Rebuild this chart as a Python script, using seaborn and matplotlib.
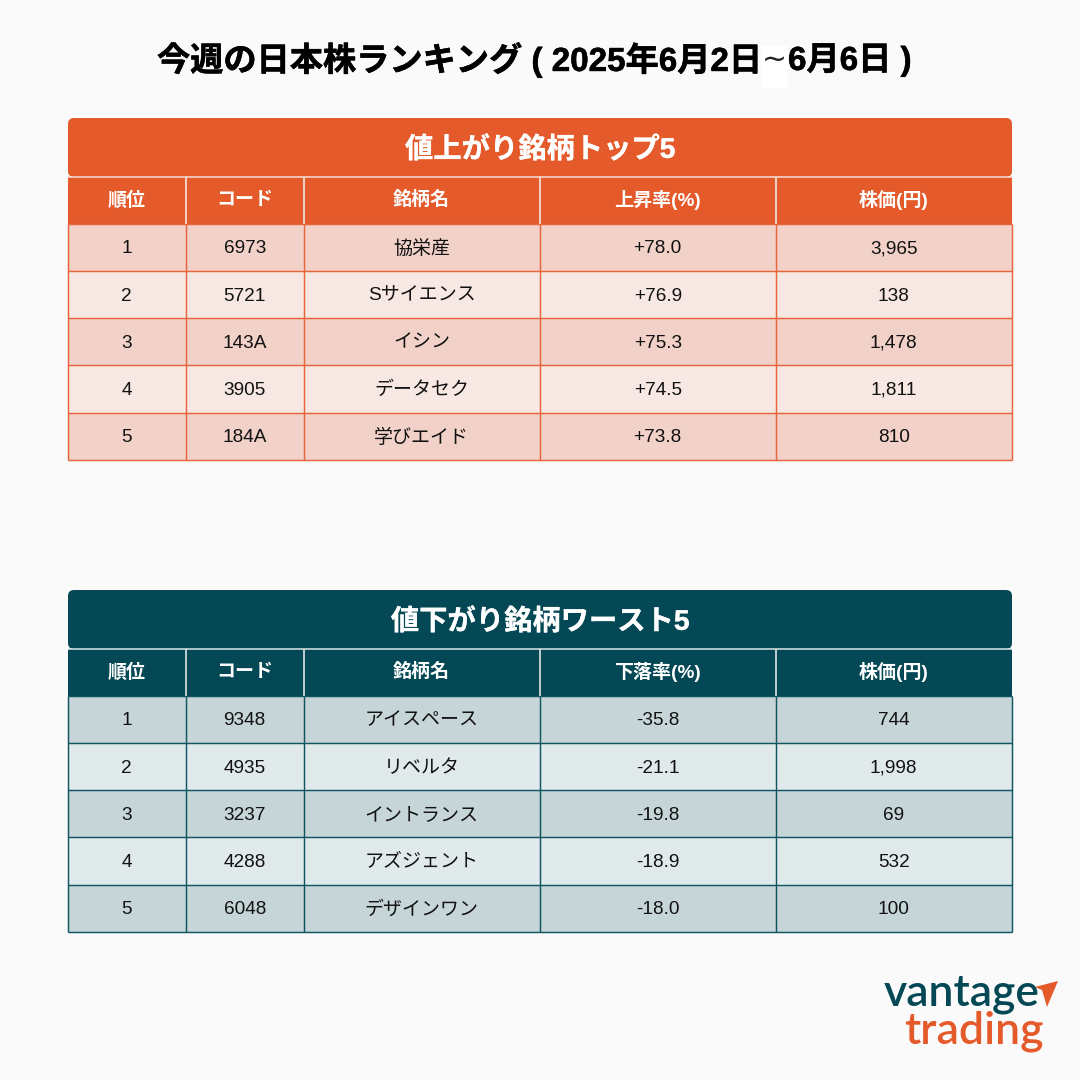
"""
Weekly Japan stock ranking tables, drawn as seaborn heatmaps with text on top.
"""
import numpy as np
import matplotlib.pyplot as plt
import matplotlib.patheffects as pe
import seaborn as sns
from matplotlib.colors import ListedColormap
from matplotlib.patches import FancyBboxPatch, Polygon, Rectangle

sns.set_style("white")
plt.rcParams["font.family"] = ["Liberation Sans", "Noto Sans CJK JP", "DejaVu Sans"]

BG = "#FAFAFA"
ORANGE = "#E45A2A"
TEAL = "#034854"

RANKS = ["1", "2", "3", "4", "5"]
COL_SPANS = [1, 1, 2, 2, 2]

UP_TITLE = "値上がり銘柄トップ5"
UP_HEADER = ["順位", "コード", "銘柄名", "上昇率(%)", "株価(円)"]
UP_CODES = ["6973", "5721", "143A", "3905", "184A"]
UP_NAMES = ["協栄産", "Sサイエンス", "イシン", "データセク", "学びエイド"]
UP_RATES = ["+78.0", "+76.9", "+75.3", "+74.5", "+73.8"]
UP_PRICES = ["3,965", "138", "1,478", "1,811", "810"]

DOWN_TITLE = "値下がり銘柄ワースト5"
DOWN_HEADER = ["順位", "コード", "銘柄名", "下落率(%)", "株価(円)"]
DOWN_CODES = ["9348", "4935", "3237", "4288", "6048"]
DOWN_NAMES = ["アイスペース", "リベルタ", "イントランス", "アズジェント", "デザインワン"]
DOWN_RATES = ["-35.8", "-21.1", "-19.8", "-18.9", "-18.0"]
DOWN_PRICES = ["744", "1,998", "69", "532", "100"]

PX = 0.72  # px to pt at dpi 100


def heavy(color, width=0.4):
    # the original's bold is a bit fatter than Noto's
    return [pe.withStroke(linewidth=width, foreground=color)]


def draw_table(fig, top, title, header, columns, main, stripe1, stripe2, line):
    """top = pixel y of the title bar."""
    bg_ax.add_patch(FancyBboxPatch((68, top), 944, 59,
                                   boxstyle="round,pad=0,rounding_size=6",
                                   fc=main, ec="none"))
    bg_ax.text(540, top + 32, title, color="white", fontsize=28.3 * PX,
               fontweight="bold", ha="center", va="center",
               path_effects=heavy("white", 0.2))

    # one row for the header, five for the body; columns on an 8 unit grid
    n_rows = len(RANKS) + 1
    row_vals = np.array([0] + [1 + i % 2 for i in range(len(RANKS))])
    cells = np.repeat(row_vals[:, None], sum(COL_SPANS), axis=1)

    ax = fig.add_axes([67.7 / 1080, 1 - (top + 59 + 282.8) / 1080, 944 / 1080, 283 / 1080])
    sns.heatmap(cells, ax=ax, cmap=ListedColormap([main, stripe1, stripe2]),
                vmin=0, vmax=2, cbar=False, xticklabels=False, yticklabels=False)
    ax.patch.set_alpha(0)

    edges = np.cumsum([0] + COL_SPANS)
    ax.vlines(edges, 1, n_rows, color=line, lw=1.05, clip_on=False)
    ax.hlines(np.arange(1, n_rows + 1), 0, edges[-1], color=line, lw=1.05, clip_on=False)
    ax.vlines(edges[1:-1], 0, 1, color="#F3F3F3", lw=1.1, clip_on=False)
    ax.hlines(0, 0, edges[-1], color="#F3E0DA" if main == ORANGE else "#DCE6E8",
              lw=1.1, clip_on=False)

    centers = (edges[:-1] + edges[1:]) / 2
    for x, label in zip(centers, header):
        ax.text(x, 0.5, label, color="white", fontsize=19 * PX, fontweight="bold",
                ha="center", va="center")
    for c, col in enumerate(columns):
        for r, val in enumerate(col):
            ax.text(centers[c], r + 1.53, val, color="#111111", fontsize=19 * PX,
                    ha="center", va="center")


fig = plt.figure(figsize=(10.8, 10.8), dpi=100, facecolor=BG)
bg_ax = fig.add_axes([0, 0, 1, 1])
bg_ax.set_xlim(0, 1080)
bg_ax.set_ylim(1080, 0)
bg_ax.axis("off")

# title, the wave dash sits on its own white box in the original
bg_ax.add_patch(Rectangle((761, 46), 27, 42, fc="white", ec="none"))
bg_ax.text(761, 60, "今週の日本株ランキング ( 2025年6月2日", fontsize=33.2 * PX,
           fontweight="bold", color="black", ha="right", va="center",
           path_effects=heavy("black"))
bg_ax.text(774.5, 60, "~", fontsize=30 * PX, color="#222222", ha="center", va="center",
           family="DejaVu Sans")
bg_ax.text(788, 60, "6月6日 )", fontsize=33.2 * PX, fontweight="bold", color="black",
           ha="left", va="center", path_effects=heavy("black"))

draw_table(fig, 118, UP_TITLE, UP_HEADER,
           [RANKS, UP_CODES, UP_NAMES, UP_RATES, UP_PRICES],
           ORANGE, "#F1D1C8", "#F7E8E3", "#E8643A")
draw_table(fig, 590, DOWN_TITLE, DOWN_HEADER,
           [RANKS, DOWN_CODES, DOWN_NAMES, DOWN_RATES, DOWN_PRICES],
           TEAL, "#C6D5D8", "#E1EAEB", "#0F5562")

# logo
bg_ax.text(884, 1006, "vantage", color=TEAL, fontsize=44.5 * PX, fontweight="semibold",
           family="Lato", ha="left", va="baseline")
bg_ax.text(904, 1044, "trading", color=ORANGE, fontsize=44.5 * PX, fontweight="semibold",
           family="Lato", ha="left", va="baseline")
bg_ax.add_patch(Polygon([(1035, 987), (1058, 981), (1047, 1007), (1042, 990)],
                        fc=ORANGE, ec="none"))

fig.savefig("out.png", dpi=100, facecolor=BG)
